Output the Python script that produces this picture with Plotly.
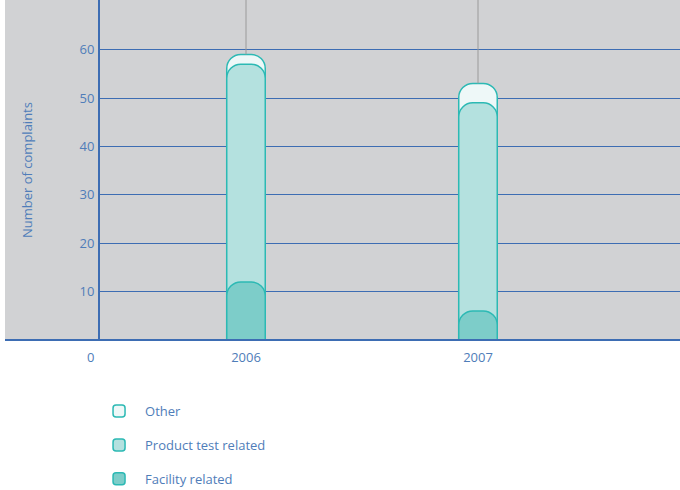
import plotly.graph_objects as go

years = [2006, 2007]
year_labels = ["2006", "2007"]
facility = [12, 6]
product = [45, 43]
other = [2, 4]
y_ticks = [10, 20, 30, 40, 50, 60]

series_names = ["Other", "Product test related", "Facility related"]
series_fills = ["#eef8f8", "#b4e1df", "#7dcdc9"]

BLUE = "#3d6db3"
TEXT = "#4f7db9"
GRAY = "#d1d2d4"
EDGE = "#2cb9b4"
FONT = "Open Sans"

Y_MAX = 70.25
X0 = 2005.3707
X1 = 2007.8707

cum_fac = facility
cum_prod = [f + p for f, p in zip(facility, product)]
cum_total = [c + o for c, o in zip(cum_prod, other)]
stack_tops = [cum_total, cum_prod, cum_fac]

fig = go.Figure()

# gray leader lines from top of plot down to bar tops
for x, t in zip(years, cum_total):
    fig.add_trace(go.Scatter(x=[x, x], y=[t, Y_MAX], mode="lines",
                             line=dict(color="#9a9a9a", width=1),
                             showlegend=False, hoverinfo="skip"))

bar_width = 0.166
axis_ids = ["x", "x2", "x3"]
for i, (name, tops, fill) in enumerate(zip(series_names, stack_tops, series_fills)):
    fig.add_trace(go.Bar(x=years, y=tops, name=name, width=bar_width,
                         xaxis=axis_ids[i], legendgroup=f"g{i}",
                         marker=dict(color=fill, line=dict(color=EDGE, width=1.5),
                                     cornerradius=14)))

L = 100
plot_w = 680 - L
left_ext = -(L - 5) / plot_w

hidden_x = dict(range=[X0, X1], overlaying="x", visible=False, fixedrange=True,
                automargin=False)

fig.update_layout(
    width=680, height=490,
    margin=dict(l=L, r=0, t=0, b=150, pad=0, autoexpand=False),
    barmode="overlay",
    paper_bgcolor="white",
    plot_bgcolor=GRAY,
    font=dict(family=FONT, size=13, color=TEXT),
    xaxis=dict(range=[X0, X1], tickvals=years, ticktext=year_labels,
               showgrid=False, zeroline=False, showline=False,
               ticks="", ticklabelstandoff=8, automargin=False,
               tickfont=dict(family=FONT, size=13, color=TEXT), fixedrange=True),
    xaxis2=hidden_x,
    xaxis3=hidden_x,
    yaxis=dict(range=[0, Y_MAX], tickvals=y_ticks, showgrid=True,
               gridcolor=BLUE, gridwidth=1, zeroline=False,
               showline=True, linecolor=BLUE, linewidth=2,
               ticks="", ticklabelstandoff=1, automargin=False,
               tickfont=dict(family=FONT, size=13, color=TEXT), fixedrange=True),
    showlegend=True,
    legend=dict(x=-0.012, y=-0.165, xanchor="left", yanchor="top",
                orientation="v", traceorder="grouped", tracegroupgap=14,
                font=dict(family=FONT, size=13, color=TEXT),
                bgcolor="rgba(0,0,0,0)", itemwidth=42),
    shapes=[
        dict(type="rect", xref="paper", yref="paper", x0=left_ext, x1=0, y0=0, y1=1,
             fillcolor=GRAY, line=dict(width=0), layer="below"),
        dict(type="line", xref="paper", yref="paper", x0=left_ext, x1=1, y0=0, y1=0,
             line=dict(color=BLUE, width=2), layer="above"),
    ],
    annotations=[
        dict(text="Number of complaints", xref="paper", yref="paper",
             x=(27 - L) / plot_w, y=0.5, xanchor="center", yanchor="middle",
             textangle=-90, showarrow=False,
             font=dict(family=FONT, size=13, color=TEXT)),
        dict(text="0", xref="paper", yref="paper", x=(90 - L) / plot_w, y=0,
             xanchor="center", yanchor="middle", yshift=-17, showarrow=False,
             font=dict(family=FONT, size=13, color=TEXT)),
    ],
)

fig.write_html("out.html", config={"displayModeBar": False},
               post_script="document.body.style.margin='0';")
